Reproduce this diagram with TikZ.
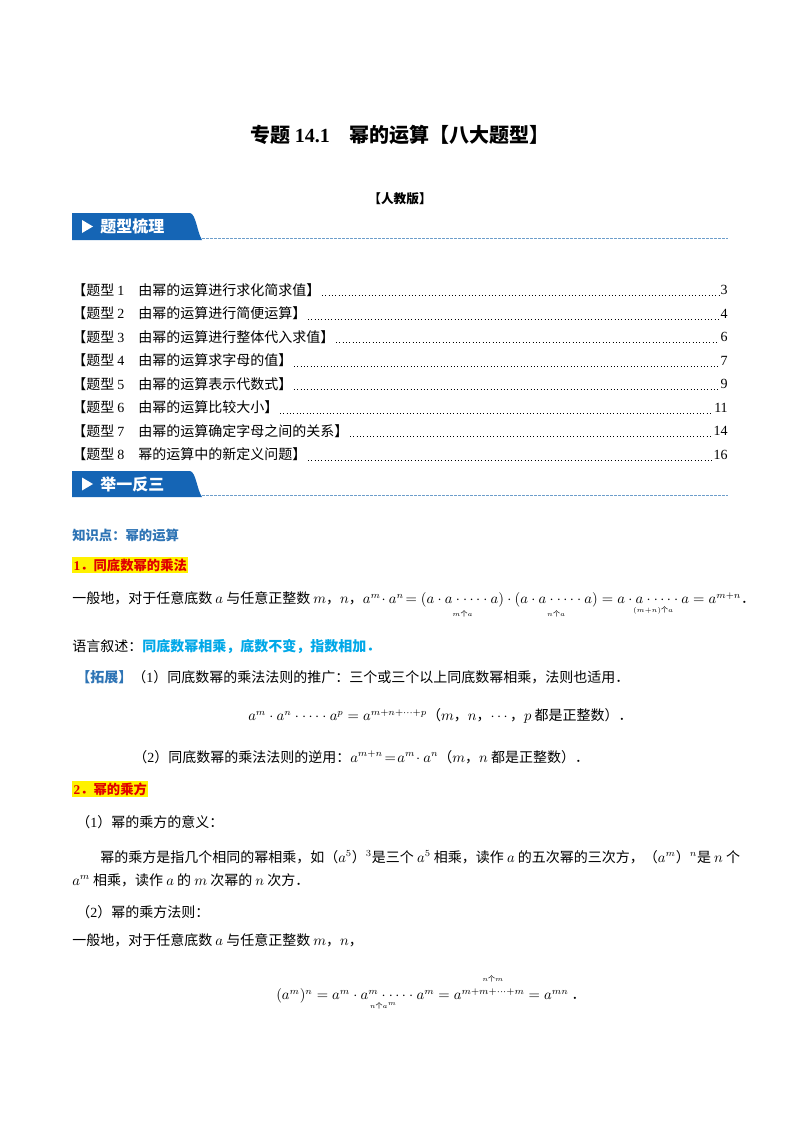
\documentclass[tikz,border=0pt]{standalone}
\usepackage{fontspec}
\usepackage{amsmath}
\setmainfont{Liberation Serif}
\newfontfamily\cjk{Noto Sans CJK SC}
\definecolor{bannerblue}{HTML}{1565B5}
\definecolor{headblue}{HTML}{2E74B5}
\definecolor{cyanb}{HTML}{00A8E8}
\definecolor{redt}{HTML}{E00000}
\newcommand{\zi}[1]{\text{\cjk #1}}
\begin{document}
\begin{tikzpicture}[x=0.75pt,y=-0.75pt,
  txt/.style={anchor=west,inner sep=0pt,font=\fontsize{10.5}{12}\selectfont\cjk},
  pg/.style={anchor=east,inner sep=0pt,font=\fontsize{10.5}{12}\selectfont},
  lead/.style={dotted,line width=0.5pt,shorten <=1pt,shorten >=1pt},
  btxt/.style={anchor=west,inner sep=0pt,text=white,font=\fontsize{12}{14}\selectfont\cjk\bfseries}]
\useasboundingbox (0,0) rectangle (800,1132);
\fill[white] (0,0) rectangle (800,1132);
\node (title) at (400,135) {\fontsize{15}{18}\selectfont\cjk\bfseries 专题 \textrm{14.1}\quad 幂的运算【八大题型】};
\node (ver) at (400,199) {\fontsize{9.5}{11}\selectfont\cjk\bfseries 【人教版】};
% banner 1
\fill[bannerblue] (72,213) -- (190,213) .. controls (196,214) and (197,232) .. (202,240) -- (72,240) -- cycle;
\fill[white] (82,220) -- (93,226.5) -- (82,233) -- cycle;
\node[btxt] (b1) at (100,226.5) {题型梳理};
\draw[headblue!70,dashed,dash pattern=on 2pt off 1pt] (202,238.5) -- (728,238.5);
% TOC
\foreach \i/\t/\p in {1/由幂的运算进行求化简求值/3,2/由幂的运算进行简便运算/4,3/由幂的运算进行整体代入求值/6,4/由幂的运算求字母的值/7,5/由幂的运算表示代数式/9,6/由幂的运算比较大小/11,7/由幂的运算确定字母之间的关系/14,8/幂的运算中的新定义问题/16}{
  \node[txt] (t\i) at (72,{290+23.5*(\i-1)}) {【题型 \textrm{\i}\quad \t】};
  \node[pg] (p\i) at (728,{290+23.5*(\i-1)}) {\p};
  \draw[lead] ([yshift=-4pt]t\i.east) -- ([yshift=-4pt]p\i.west);
}
% banner 2
\fill[bannerblue] (72,471) -- (190,471) .. controls (196,472) and (197,490) .. (202,497) -- (72,497) -- cycle;
\fill[white] (82,477.5) -- (93,484) -- (82,490.5) -- cycle;
\node[btxt] (b2) at (100,484) {举一反三};
\draw[headblue!70,dashed,dash pattern=on 2pt off 1pt] (202,495.5) -- (728,495.5);
% knowledge
\node[txt,text=headblue,font=\fontsize{10}{12}\selectfont\cjk\bfseries] (k) at (72,535) {知识点：幂的运算};
\node[txt,fill=yellow,inner sep=1pt,text=redt,font=\fontsize{10}{12}\selectfont\cjk\bfseries] (s1) at (72,565) {\textrm{1}．同底数幂的乘法};
\node[txt] (f1) at (72,605) {一般地，对于任意底数 $a$ 与任意正整数 $m$，$n$，$a^m\!\cdot a^n\!=\underset{\scriptscriptstyle m\zi{个}a}{(a\cdot a\cdot\cdots\cdot a)}\cdot\underset{\scriptscriptstyle n\zi{个}a}{(a\cdot a\cdot\cdots\cdot a)}=\underset{\scriptscriptstyle (m+n)\zi{个}a}{a\cdot a\cdot\cdots\cdot a}=a^{m+n}$．};
\node[txt] (yy) at (72,646) {语言叙述：\textcolor{cyanb}{\bfseries 同底数幂相乘，底数不变，指数相加．}};
\node[txt] (tz) at (76,677) {\textcolor{headblue}{\bfseries 【拓展】}（\textrm{1}）同底数幂的乘法法则的推广：三个或三个以上同底数幂相乘，法则也适用．};
\node[txt] (f2) at (248,716) {$a^m\cdot a^n\cdot\cdots\cdot a^p=a^{m+n+\cdots+p}$（$m$，$n$，$\cdots$，$p$ 都是正整数）．};
\node[txt] (l2) at (133,757) {（\textrm{2}）同底数幂的乘法法则的逆用：$a^{m+n}\!=\!a^m\!\cdot a^n$（$m$，$n$ 都是正整数）．};
\node[txt,fill=yellow,inner sep=1pt,text=redt,font=\fontsize{10}{12}\selectfont\cjk\bfseries] (s2) at (72,789) {\textrm{2}．幂的乘方};
\node[txt] (q1) at (76,822) {（\textrm{1}）幂的乘方的意义：};
\node[txt] (q2) at (100,857) {幂的乘方是指几个相同的幂相乘，如（$a^5$）$^3$是三个 $a^5$ 相乘，读作 $a$ 的五次幂的三次方，（$a^m$）$^n$是 $n$ 个};
\node[txt] (q3) at (72,880) {$a^m$ 相乘，读作 $a$ 的 $m$ 次幂的 $n$ 次方．};
\node[txt] (q4) at (76,912) {（\textrm{2}）幂的乘方法则：};
\node[txt] (q5) at (72,940) {一般地，对于任意底数 $a$ 与任意正整数 $m$，$n$，};
\node[txt] (f3) at (276,992) {$(a^m)^n=\underset{\scriptscriptstyle n\zi{个}a^m}{a^m\cdot a^m\cdot\cdots\cdot a^m}=a^{\overset{\raisebox{4pt}{$\scriptscriptstyle n\zi{个}m$}}{m+m+\cdots+m}}=a^{mn}$\ ．};
\end{tikzpicture}
\end{document}
